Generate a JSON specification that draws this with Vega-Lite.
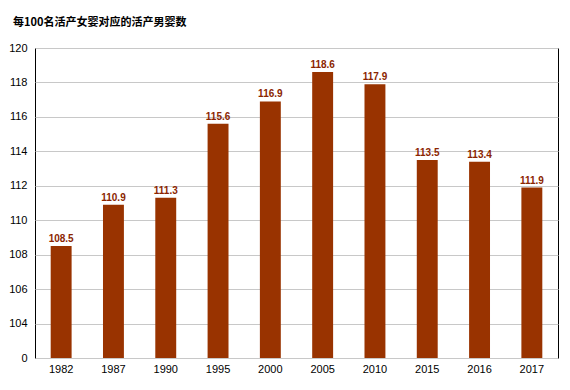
{
  "$schema": "https://vega.github.io/schema/vega-lite/v6.json",
  "width": 523,
  "height": 310,
  "autosize": {"type": "none"},
  "padding": {"left": 35, "top": 48, "right": 12, "bottom": 32},
  "background": "white",
  "title": {
    "text": "每100名活产女婴对应的活产男婴数",
    "anchor": "start",
    "frame": "group",
    "dx": -22,
    "offset": 14,
    "fontSize": 11,
    "fontWeight": "bold",
    "color": "#000000",
    "font": "Noto Sans CJK SC"
  },
  "config": {
    "view": {"stroke": "#000000", "strokeWidth": 1},
    "font": "Liberation Sans"
  },
  "data": {
    "values": [
      {"year": "1982", "value": 108.5},
      {"year": "1987", "value": 110.9},
      {"year": "1990", "value": 111.3},
      {"year": "1995", "value": 115.6},
      {"year": "2000", "value": 116.9},
      {"year": "2005", "value": 118.6},
      {"year": "2010", "value": 117.9},
      {"year": "2015", "value": 113.5},
      {"year": "2016", "value": 113.4},
      {"year": "2017", "value": 111.9}
    ]
  },
  "encoding": {
    "x": {
      "field": "year",
      "type": "ordinal",
      "sort": null,
      "scale": {"paddingInner": 0.6, "paddingOuter": 0.3},
      "axis": {
        "title": null,
        "labelAngle": 0,
        "labelFontSize": 11,
        "labelColor": "#000000",
        "ticks": false,
        "domain": false,
        "labelPadding": 5
      }
    },
    "y": {
      "field": "value",
      "type": "quantitative",
      "scale": {"domain": [102, 120], "zero": false, "clamp": true, "nice": false},
      "axis": {
        "title": null,
        "values": [102, 104, 106, 108, 110, 112, 114, 116, 118, 120],
        "labelExpr": "datum.value == 102 ? '0' : datum.label",
        "labelFontSize": 11,
        "labelColor": "#000000",
        "ticks": false,
        "domain": false,
        "labelPadding": 8,
        "gridColor": "#c8c8c8",
        "gridWidth": 1
      }
    }
  },
  "layer": [
    {
      "mark": {"type": "bar", "color": "#993300"},
      "encoding": {"y2": {"datum": 102}}
    },
    {
      "mark": {"type": "text", "dy": -7, "fontSize": 10, "fontWeight": "bold", "color": "#8b2500"},
      "encoding": {"text": {"field": "value", "type": "quantitative", "format": ".1f"}}
    }
  ]
}
